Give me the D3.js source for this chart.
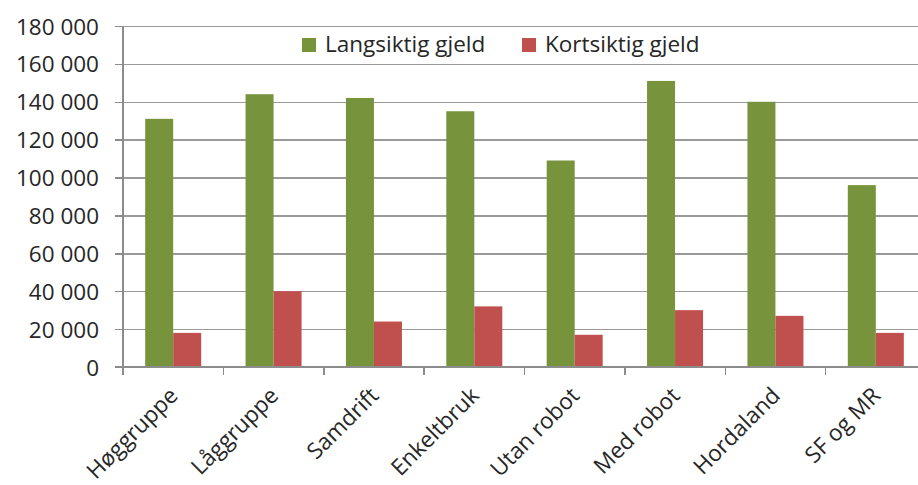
<!DOCTYPE html>
<html lang="no">
<head>
  <meta charset="UTF-8">
  <title>Gjeld</title>
  <script src="https://d3js.org/d3.v7.min.js" charset="utf-8"></script>
  <style>
    body { margin: 0; background: #fff; }
    svg text { font-family: "Open Sans", sans-serif; fill: #262626; }
    .axis path { display: none; }
    .axis line { stroke: #8c8c8c; stroke-width: 1.5; shape-rendering: crispEdges; }
    .grid line { stroke: #9a9a9a; stroke-width: 1.5; shape-rendering: crispEdges; }
    .grid path { display: none; }
  </style>
</head>
<body>
<div class="chart"></div>
<script>
  // data
  var categories = ['Høggruppe', 'Låggruppe', 'Samdrift', 'Enkeltbruk', 'Utan robot', 'Med robot', 'Hordaland', 'SF og MR']
  var series = ['Langsiktig gjeld', 'Kortsiktig gjeld']
  var langsiktig = [131000, 144000, 142000, 135000, 109000, 151000, 140000, 96000]
  var kortsiktig = [18000, 40000, 24000, 32000, 17000, 30000, 27000, 18000]
  var yTicks = [0, 20000, 40000, 60000, 80000, 100000, 120000, 140000, 160000, 180000]
  var colors = ['#77933c', '#c0504d']

  var width = 918
  var height = 485
  var plotLeft = 123, plotRight = 926, plotTop = 26, plotBottom = 367

  var svg = d3.select('.chart')
    .append('svg')
    .attr('width', width)
    .attr('height', height)

  var no = d3.formatLocale({ decimal: ',', thousands: ' ', grouping: [3], currency: ['', ''] })
  var fmt = no.format(',d')

  var x0 = d3.scaleBand()
    .domain(categories)
    .range([plotLeft, plotRight])
    .paddingInner(0.442)
    .paddingOuter(0.221)

  var x1 = d3.scaleBand()
    .domain(series)
    .range([0, x0.bandwidth()])

  var xEdges = d3.scaleBand()
    .domain(categories)
    .range([plotLeft, plotRight])

  var y = d3.scaleLinear()
    .domain([0, 180000])
    .range([plotBottom, plotTop])

  // gridlines
  svg.append('g')
    .attr('class', 'grid')
    .attr('transform', 'translate(' + plotLeft + ',0)')
    .call(d3.axisLeft(y).tickValues(yTicks.slice(1)).tickSize(-(plotRight - plotLeft)).tickFormat(''))

  // y axis
  var gy = svg.append('g')
    .attr('class', 'axis')
    .attr('transform', 'translate(' + plotLeft + ',0)')
    .call(d3.axisLeft(y).tickValues(yTicks).tickSize(8).tickPadding(16).tickFormat(fmt))
  gy.selectAll('text').style('font-size', '22.5px').attr('dy', '0.36em')
  gy.append('line')
    .attr('x1', 0).attr('x2', 0)
    .attr('y1', plotTop).attr('y2', plotBottom)

  // bars
  var rows = categories.map(function (c, i) {
    return { cat: c, vals: [langsiktig[i], kortsiktig[i]] }
  })

  var groups = svg.selectAll('.group')
    .data(rows)
    .enter()
    .append('g')
    .attr('class', 'group')
    .attr('transform', function (d) { return 'translate(' + x0(d.cat) + ',0)' })

  groups.selectAll('rect')
    .data(function (d) { return d.vals.map(function (v, j) { return { s: series[j], v: v, j: j } }) })
    .enter()
    .append('rect')
    .attr('x', function (d) { return x1(d.s) })
    .attr('y', function (d) { return y(d.v) })
    .attr('width', x1.bandwidth())
    .attr('height', function (d) { return y(0) - y(d.v) })
    .attr('fill', function (d) { return colors[d.j] })

  // x axis line and ticks between categories
  var gx = svg.append('g').attr('class', 'axis')
  gx.append('line')
    .attr('x1', plotLeft - 8).attr('x2', plotRight)
    .attr('y1', y(0)).attr('y2', y(0))
  gx.selectAll('.tick')
    .data(categories.map(function (c) { return xEdges(c) }).concat([plotRight]))
    .enter()
    .append('line')
    .attr('x1', function (d) { return d }).attr('x2', function (d) { return d })
    .attr('y1', y(0)).attr('y2', y(0) + 8)

  // rotated category labels
  svg.selectAll('.xlabel')
    .data(categories)
    .enter()
    .append('text')
    .attr('class', 'xlabel')
    .attr('text-anchor', 'end')
    .style('font-size', '22.5px')
    .attr('transform', function (d) {
      return 'translate(' + (x0(d) + x0.bandwidth() / 2 + 6) + ',' + (plotBottom + 30) + ') rotate(-45)'
    })
    .text(function (d) { return d })

  // legend
  var legendX = [302, 522]
  var leg = svg.selectAll('.legend')
    .data(series)
    .enter()
    .append('g')
    .attr('class', 'legend')
    .attr('transform', function (d, i) { return 'translate(' + legendX[i] + ',38)' })
  leg.append('rect')
    .attr('width', 14).attr('height', 14)
    .attr('fill', function (d, i) { return colors[i] })
  leg.append('text')
    .attr('x', 23).attr('y', 14)
    .style('font-size', '22.5px')
    .text(function (d) { return d })
</script>
</body>
</html>
